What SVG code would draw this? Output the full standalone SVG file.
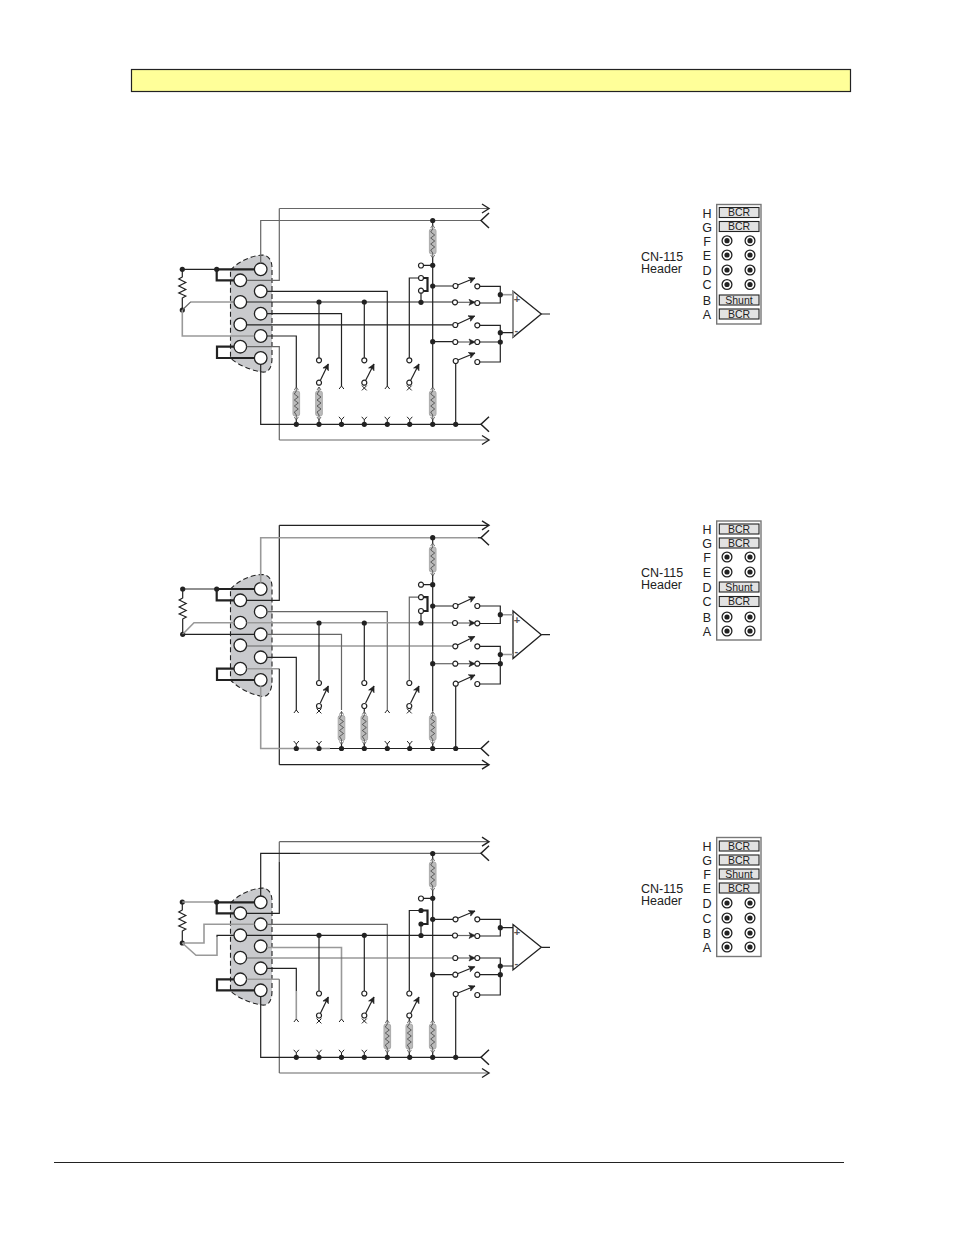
<svg xmlns="http://www.w3.org/2000/svg" width="954" height="1235" viewBox="0 0 954 1235">
<style>
text{font-family:"Liberation Sans",Arial,sans-serif;fill:#222}
.w{fill:none;stroke:#222;stroke-width:1.2}
.g{fill:none;stroke:#666;stroke-width:1.2}
.l{fill:none;stroke:#999;stroke-width:1.6}
.t{fill:none;stroke:#222;stroke-width:2.2}
.j{fill:#222;stroke:none}
.o{fill:#fff;stroke:#222;stroke-width:1.2}
.p{fill:#fff;stroke:#222;stroke-width:1.3}
.s{fill:#c9cacd;stroke:#222;stroke-width:1.1;stroke-dasharray:5 3}
.a{fill:#fff;stroke:#222;stroke-width:1.3}
.h{fill:#fff;stroke:#777;stroke-width:1.4}
.r{fill:#e2e2e2;stroke:#222;stroke-width:1.1}
.lb{font-size:12.5px;text-anchor:middle}
.bt{font-size:10.5px;text-anchor:middle}
.tt{font-size:12.5px}
.sg{font-size:11px;font-weight:bold;fill:#555}
</style>
<defs>
<marker id="arr" markerUnits="userSpaceOnUse" markerWidth="12" markerHeight="12" refX="9" refY="6" orient="auto" overflow="visible"><path d="M2 1.5L9 6L2 10.5" fill="none" stroke="#222" stroke-width="1.4"/></marker>
<marker id="fork" markerUnits="userSpaceOnUse" markerWidth="12" markerHeight="18" refX="1" refY="9" orient="auto" overflow="visible"><path d="M9 1.5L1 9L9 16.5" fill="none" stroke="#222" stroke-width="1.5"/></marker>
<marker id="sa" markerUnits="userSpaceOnUse" markerWidth="8" markerHeight="8" refX="7" refY="4" orient="auto"><path d="M1 1L7 4L1 7L2.5 4Z" fill="#222" stroke="#222" stroke-width=".6"/></marker>
<g id="sh"><rect x="-3.3" y="4" width="6.6" height="25" rx="2" fill="#bbb" stroke="#aaa"/><path d="M0 0V4l-2 3 4 3-4 3 4 3-4 3 4 3-4 3 2 3V33M-2 3L0 0L2 3M-2 30L0 33L2 30" fill="none" stroke="#333" stroke-width=".7"/></g>
<path id="mv" d="M-2.6 -7.5L0 -4.5L2.6 -7.5M0 -4.5V0" fill="none" stroke="#222" stroke-width="1"/>
<path id="mt" d="M-2.4 2L0 -1L2.4 2" fill="none" stroke="#222" stroke-width="1"/>
<path id="mx" d="M-2.4 2.4L2.4 -2.4M2.4 2.4L-2.4 -2.4" fill="none" stroke="#222" stroke-width="1"/>
<circle id="jn" r="2.6" class="j"/>
<circle id="op" r="2.5" class="o"/>
<circle id="pn" r="6.3" class="p"/>
<g id="hp"><circle r="4.9" fill="#fff" stroke="#222" stroke-width="1.3"/><circle r="2.6" fill="#222"/></g>
</defs>

<rect id="banner" x="131.5" y="69.5" width="719" height="22" fill="#ffff99" stroke="#222" stroke-width="1.2"/>
<path id="footer-rule" d="M54 1162.5H844" stroke="#222" stroke-width="1" fill="none"/>

<!-- DIAGRAM 1 -->
<g id="connector-1">
<path class="s" d="M230.5 270C238 262 250 256 262 255C269 255 272 261 272 268V358C272 367 269 373 262 372C250 370 238 365 230.5 358Z"/>
<use href="#pn" x="260.7" y="269.3"/><use href="#pn" x="260.7" y="291.3"/><use href="#pn" x="260.7" y="313.7"/><use href="#pn" x="260.7" y="336"/><use href="#pn" x="260.7" y="358"/>
<use href="#pn" x="240.3" y="280.3"/><use href="#pn" x="240.3" y="302"/><use href="#pn" x="240.3" y="324.5"/><use href="#pn" x="240.3" y="346.7"/>
</g>
<g id="resistor-1">
<path class="w" d="M182.3 269.3V277l-3.5 2 7 3.5-7 3.5 7 3.5-7 3.5 7 3 -3.5 2V310"/>
<use href="#jn" x="182.3" y="269.3"/><use href="#jn" x="182.3" y="310"/>
</g>
<g id="opamp-1">
<path class="a" d="M513 291.3L541.3 314L513 337.3Z"/><path class="l" d="M513 291.3V337.3"/>
<text class="sg" x="513.8" y="303">+</text><text class="sg" x="514.5" y="334">-</text>
</g>
<g id="wires-1">
<path class="g" marker-end="url(#arr)" d="M279.3 208.5H489"/>
<path class="g" d="M279.3 208.5V280.3H246.6"/>
<path class="g" marker-end="url(#fork)" d="M260.7 263V220.5H481"/>
<path class="w" d="M182.3 269.3H216.7"/>
<path class="t" d="M254.4 269.3H216.7V280.3H234M234 346.7H217V358H254.4"/>
<path class="g" d="M182.3 310L190.5 302H234"/>
<path class="l" d="M182.3 310V336H254.4"/>
<path class="w" d="M246.6 302H452.3M267 291.3H387.3V386M267 313.7H341.5V386M246.6 324.8H452.8M267 336H296.3V387"/>
<path class="g" d="M246.6 346.7H279.3V440"/>
<path class="g" marker-end="url(#arr)" d="M279.3 440H489"/>
<path class="w" marker-end="url(#fork)" d="M260.7 364.3V424.3H481"/>
<path class="w" d="M319 302V358M364.3 302V358M432.7 220.5V225M432.7 258V387M432.7 265.3H423.5M432.7 286H453M432.7 341.7H453M421 302.3V293M421 278H409.3V358M455.7 363.5V424.3"/>
<path class="t" d="M423 278H427.5V291H423.5"/>
<path class="w" marker-end="url(#sa)" d="M457.7 285L475 278"/>
<path class="w" marker-end="url(#sa)" d="M457.5 324L474.7 316"/>
<path class="w" marker-end="url(#sa)" d="M458 360L475 353"/>
<path class="g" marker-end="url(#sa)" d="M457.6 302.3H475"/>
<path class="g" marker-end="url(#sa)" d="M458 342H475"/>
<path class="w" marker-end="url(#sa)" d="M320.3 380.5L328.3 364"/>
<path class="w" marker-end="url(#sa)" d="M365.6 380.5L374 364"/>
<path class="w" marker-end="url(#sa)" d="M410.6 380.5L419 364"/>
<path class="w" d="M480 286.3H500.3V303H480M480 325.3H500.3V362H480M480 342H500.3M500.3 332.7H513M541.3 314H550"/>
<path class="l" d="M500.3 294.7H513"/>
<use href="#sh" x="296.3" y="387"/><use href="#sh" x="319" y="387"/><use href="#sh" x="432.7" y="387"/><use href="#sh" x="432.7" y="225"/>
<path class="w" d="M296.3 420V424M319 420V424M432.7 420V424"/>
<use href="#mt" x="341.5" y="387"/><use href="#mt" x="387.3" y="387"/><use href="#mx" x="364.3" y="388"/><use href="#mx" x="409.3" y="388"/>
<use href="#mv" x="341.5" y="424.3"/><use href="#mv" x="364.3" y="424.3"/><use href="#mv" x="387.3" y="424.3"/><use href="#mv" x="409.7" y="424.3"/>
<use href="#jn" x="296.3" y="424.3"/><use href="#jn" x="319" y="424.3"/><use href="#jn" x="341.5" y="424.3"/><use href="#jn" x="364.3" y="424.3"/><use href="#jn" x="387.3" y="424.3"/><use href="#jn" x="409.7" y="424.3"/><use href="#jn" x="432.7" y="424.3"/><use href="#jn" x="455.7" y="424.3"/>
<use href="#jn" x="319" y="302"/><use href="#jn" x="364.3" y="302"/><use href="#jn" x="421" y="302.3"/><use href="#jn" x="432.7" y="220.5"/><use href="#jn" x="432.7" y="265.3"/><use href="#jn" x="432.7" y="286"/><use href="#jn" x="432.7" y="341.7"/><use href="#jn" x="500.3" y="294.7"/><use href="#jn" x="500.3" y="332.7"/><use href="#jn" x="500.3" y="342"/><use href="#jn" x="216.7" y="269.3"/>
<use href="#op" x="319" y="360.3"/><use href="#op" x="319" y="382.7"/><use href="#op" x="364.3" y="360.3"/><use href="#op" x="364.3" y="382.7"/><use href="#op" x="409.3" y="360.3"/><use href="#op" x="409.3" y="382.7"/>
<use href="#op" x="421" y="265.5"/><use href="#op" x="421" y="278"/><use href="#op" x="421" y="290.7"/>
<use href="#op" x="455.5" y="286"/><use href="#op" x="455" y="302.3"/><use href="#op" x="455.3" y="325"/><use href="#op" x="455.3" y="342"/><use href="#op" x="455.7" y="361"/>
<use href="#op" x="477.3" y="286.3"/><use href="#op" x="477.3" y="303"/><use href="#op" x="477.3" y="325.3"/><use href="#op" x="477.3" y="342"/><use href="#op" x="477.3" y="362"/>
</g>
<g id="header-1">
<rect class="h" x="716.7" y="204.5" width="44.3" height="119.5"/>
<rect class="r" x="719.3" y="207.5" width="39.7" height="10"/><text class="bt" x="739" y="216.4">BCR</text>
<rect class="r" x="719.3" y="221.5" width="39.7" height="10"/><text class="bt" x="739" y="230.4">BCR</text>
<use href="#hp" x="727" y="240.7"/><use href="#hp" x="750" y="240.7"/><use href="#hp" x="727" y="255"/><use href="#hp" x="750" y="255"/><use href="#hp" x="727" y="270"/><use href="#hp" x="750" y="270"/><use href="#hp" x="727" y="284.5"/><use href="#hp" x="750" y="284.5"/>
<rect class="r" x="719.3" y="295" width="39.7" height="10"/><text class="bt" x="739" y="304">Shunt</text>
<rect class="r" x="719.3" y="309" width="39.7" height="10"/><text class="bt" x="739" y="318">BCR</text>
<text class="lb" x="707" y="217.5">H</text><text class="lb" x="707" y="231.5">G</text><text class="lb" x="707" y="245.5">F</text><text class="lb" x="707" y="259.5">E</text><text class="lb" x="707" y="274.5">D</text><text class="lb" x="707" y="289">C</text><text class="lb" x="707" y="304.5">B</text><text class="lb" x="707" y="318.5">A</text>
<text class="tt" x="641" y="261">CN-115</text><text class="tt" x="641" y="273">Header</text>
</g>

<!-- DIAGRAM 2 -->
<g id="connector-2">
<path class="s" d="M230.5 589C238 581 250 575 262 574.5C269 574.5 272 580 272 587V680C272 690 269 697 262 696.5C250 694 238 688 230.5 680Z"/>
<use href="#pn" x="260.7" y="589"/><use href="#pn" x="260.7" y="611.7"/><use href="#pn" x="260.7" y="634.3"/><use href="#pn" x="260.7" y="657.3"/><use href="#pn" x="260.7" y="680"/>
<use href="#pn" x="240.3" y="600.3"/><use href="#pn" x="240.3" y="622.7"/><use href="#pn" x="240.3" y="645.3"/><use href="#pn" x="240.3" y="668.7"/>
</g>
<g id="resistor-2">
<path class="w" d="M182.7 589V598l-3.5 2 7 3.5-7 3.5 7 3.5-7 3.5 7 3-3.5 2V634.3"/>
<use href="#jn" x="182.7" y="589"/><use href="#jn" x="182.7" y="634.3"/>
</g>
<g id="opamp-2">
<path class="a" d="M513 611L541.3 634.7L513 658.5Z"/>
<text class="sg" x="513.8" y="624">+</text><text class="sg" x="514.5" y="655">-</text>
</g>
<g id="wires-2">
<path class="w" marker-end="url(#arr)" d="M279.3 525.3H489"/>
<path class="w" d="M279.3 525.3V600.3H246.6"/>
<path class="l" d="M260.7 582.7V537.7H481"/>
<path class="w" marker-end="url(#fork)" d="M478 537.7H481"/>
<path class="w" d="M182.7 589H216.7"/>
<path class="t" d="M254.4 589H216.7V600.3H234M234 668.7H217V680H254.4"/>
<path class="l" d="M182.7 634.3L194 622.7H234"/>
<path class="w" d="M182.7 634.3H254.4"/>
<path class="g" d="M267 611.7H387.3V710"/>
<path class="g" d="M267 634.3H341.5V710"/>
<path class="l" d="M246.6 622.7H452"/>
<path class="g" d="M246.6 646H452.8"/>
<path class="w" d="M267 657.3H296.3V711"/>
<path class="l" d="M246.6 668.7H279.3"/>
<path class="w" d="M279.3 668.7V764.7"/>
<path class="w" marker-end="url(#arr)" d="M279.3 764.7H489"/>
<path class="l" d="M260.7 686.3V748.5H330"/>
<path class="w" marker-end="url(#fork)" d="M330 748.5H481"/>
<path class="w" d="M319 623V680M364.3 623V680M432.7 537.7V543M432.7 575.5V711M432.7 584.7H423.5M432.7 606H453M421 623V613M455.7 686V748.5"/>
<path class="g" d="M432.7 663.7H453"/>
<path class="g" d="M421 597.2H409.3V680"/>
<path class="t" d="M423 597.2H427.5V611H423.5"/>
<path class="w" marker-end="url(#sa)" d="M457.7 605L475 597"/>
<path class="w" marker-end="url(#sa)" d="M457.5 645L474.7 636.5"/>
<path class="w" marker-end="url(#sa)" d="M458 682.7L475 675"/>
<path class="g" marker-end="url(#sa)" d="M457.6 623H475"/>
<path class="g" marker-end="url(#sa)" d="M458 663.7H475"/>
<path class="w" marker-end="url(#sa)" d="M320.3 703L328.3 686"/>
<path class="w" marker-end="url(#sa)" d="M365.6 703L374 686"/>
<path class="w" marker-end="url(#sa)" d="M410.6 703L419 686"/>
<path class="w" d="M480 606H500.3V623.5H480M480 646.3H500.3V684H480M480 663.7H500.3M541.3 634.7H550"/>
<path class="l" d="M500.3 614.7H513M500.3 654.5H513"/>
<use href="#sh" x="341.5" y="711.5"/><use href="#sh" x="364.3" y="711.5"/><use href="#sh" x="432.7" y="711.5"/><use href="#sh" x="432.7" y="543"/>
<path class="w" d="M341.5 744V748M364.3 744V748M432.7 744V748M364.3 708V711.5"/>
<use href="#mt" x="296.3" y="711"/><use href="#mt" x="387.3" y="711"/><use href="#mx" x="319" y="711"/><use href="#mx" x="409.3" y="711"/>
<use href="#mv" x="296.3" y="748.5"/><use href="#mv" x="319" y="748.5"/><use href="#mv" x="387.3" y="748.5"/><use href="#mv" x="409.7" y="748.5"/>
<use href="#jn" x="296.3" y="748.5"/><use href="#jn" x="319" y="748.5"/><use href="#jn" x="341.5" y="748.5"/><use href="#jn" x="364.3" y="748.5"/><use href="#jn" x="387.3" y="748.5"/><use href="#jn" x="409.7" y="748.5"/><use href="#jn" x="432.7" y="748.5"/><use href="#jn" x="455.7" y="748.5"/>
<use href="#jn" x="319" y="623"/><use href="#jn" x="364.3" y="623"/><use href="#jn" x="421" y="623"/><use href="#jn" x="432.7" y="537.7"/><use href="#jn" x="432.7" y="584.7"/><use href="#jn" x="432.7" y="606"/><use href="#jn" x="432.7" y="663.7"/><use href="#jn" x="500.3" y="614.7"/><use href="#jn" x="500.3" y="654.5"/><use href="#jn" x="500.3" y="663.7"/><use href="#jn" x="216.7" y="589"/>
<use href="#op" x="319" y="683"/><use href="#op" x="319" y="706"/><use href="#op" x="364.3" y="683"/><use href="#op" x="364.3" y="706"/><use href="#op" x="409.3" y="683"/><use href="#op" x="409.3" y="706"/>
<use href="#op" x="421" y="584.7"/><use href="#op" x="421" y="597.2"/><use href="#op" x="421" y="611"/>
<use href="#op" x="455.5" y="606"/><use href="#op" x="455" y="623"/><use href="#op" x="455.3" y="646.3"/><use href="#op" x="455.3" y="663.7"/><use href="#op" x="455.7" y="683.7"/>
<use href="#op" x="477.3" y="606"/><use href="#op" x="477.3" y="623.3"/><use href="#op" x="477.3" y="646.3"/><use href="#op" x="477.3" y="663.7"/><use href="#op" x="477.3" y="684"/>
</g>
<g id="header-2">
<rect class="h" x="716.7" y="521" width="44.3" height="119"/>
<rect class="r" x="719.3" y="524" width="39.7" height="10"/><text class="bt" x="739" y="532.9">BCR</text>
<rect class="r" x="719.3" y="538" width="39.7" height="10"/><text class="bt" x="739" y="546.9">BCR</text>
<use href="#hp" x="727" y="557"/><use href="#hp" x="750" y="557"/><use href="#hp" x="727" y="572"/><use href="#hp" x="750" y="572"/>
<rect class="r" x="719.3" y="582" width="39.7" height="10"/><text class="bt" x="739" y="591">Shunt</text>
<rect class="r" x="719.3" y="596.5" width="39.7" height="10"/><text class="bt" x="739" y="605.4">BCR</text>
<use href="#hp" x="727" y="617"/><use href="#hp" x="750" y="617"/><use href="#hp" x="727" y="631"/><use href="#hp" x="750" y="631"/>
<text class="lb" x="707" y="534">H</text><text class="lb" x="707" y="548">G</text><text class="lb" x="707" y="562">F</text><text class="lb" x="707" y="576.5">E</text><text class="lb" x="707" y="591.5">D</text><text class="lb" x="707" y="606">C</text><text class="lb" x="707" y="621.5">B</text><text class="lb" x="707" y="635.5">A</text>
<text class="tt" x="641" y="577">CN-115</text><text class="tt" x="641" y="589">Header</text>
</g>

<!-- DIAGRAM 3 -->
<g transform="translate(0,633)">
<g id="connector-3">
<path class="s" d="M230.5 270C238 262 250 256 262 255C269 255 272 261 272 268V358C272 367 269 373 262 372C250 370 238 365 230.5 358Z"/>
<use href="#pn" x="260.7" y="269.3"/><use href="#pn" x="260.7" y="291.3"/><use href="#pn" x="260.7" y="313.3"/><use href="#pn" x="260.7" y="335.3"/><use href="#pn" x="260.7" y="357.3"/>
<use href="#pn" x="240.3" y="280.3"/><use href="#pn" x="240.3" y="302.3"/><use href="#pn" x="240.3" y="324.7"/><use href="#pn" x="240.3" y="346.3"/>
</g>
<g id="resistor-3">
<path class="w" d="M182.3 269V277l-3.5 2 7 3.5-7 3.5 7 3.5-7 3.5 7 3-3.5 2V310"/>
<use href="#jn" x="182.3" y="269"/><use href="#jn" x="182.3" y="310"/>
</g>
<g id="opamp-3">
<path class="a" d="M513 291.5L541.3 314.3L513 337Z"/>
<text class="sg" x="513.8" y="303">+</text><text class="sg" x="514.5" y="334">-</text>
</g>
<g id="wires-3">
<path class="g" marker-end="url(#arr)" d="M279.3 208.7H489"/>
<path class="w" d="M279.3 229V280.3H246.6"/>
<path class="g" d="M279.3 208.7V229"/>
<path class="w" d="M260.7 263V220.3H300"/>
<path class="g" marker-end="url(#fork)" d="M300 220.3H481"/>
<path class="l" d="M182.3 269H216.7"/>
<path class="t" d="M254.4 269.3H216.7V280.3H234M234 346.3H217V357.3H254.4"/>
<path class="l" d="M182.3 310H204V291.3H254.4M182.3 310L196 322.3H217V304"/>
<path class="w" d="M217 304V302.3H234"/>
<path class="g" d="M267 291.3H387.3V387"/>
<path class="w" d="M246.6 302.3H452.3"/>
<path class="l" d="M267 314.5H341.5V386"/>
<path class="g" d="M246.6 325H452.8"/>
<path class="w" d="M267 335.3H296.3V358"/>
<path class="l" d="M296.3 358V386"/>
<path class="l" d="M246.6 346.3H279.3"/>
<path class="g" d="M279.3 346.3V440"/>
<path class="g" marker-end="url(#arr)" d="M279.3 440H489"/>
<path class="w" marker-end="url(#fork)" d="M260.7 364V424.3H481"/>
<path class="w" d="M319 302.3V358M364.3 302.3V358M432.7 220.5V225M432.7 258V387M432.7 265.3H423.5M432.7 286.3H453M432.7 341.7H453M421 302.5V291M421 277.5H409.3V358M455.7 363.5V424.3"/>
<path class="t" d="M421 277.5H427.5V291H421"/>
<path class="w" marker-end="url(#sa)" d="M457.7 285.3L475 278"/>
<path class="w" marker-end="url(#sa)" d="M457.5 340.7L474.7 333.7"/>
<path class="w" marker-end="url(#sa)" d="M458 360L475 353"/>
<path class="g" marker-end="url(#sa)" d="M457.6 302.5H475"/>
<path class="g" marker-end="url(#sa)" d="M458 325H475"/>
<path class="w" marker-end="url(#sa)" d="M320.3 380.5L328.3 364"/>
<path class="w" marker-end="url(#sa)" d="M365.6 380.5L374 364"/>
<path class="w" marker-end="url(#sa)" d="M410.6 380.5L419 364"/>
<path class="w" d="M480 286.3H500.3V303H480M480 325H500.3V362H480M480 341.7H500.3M500.3 333H513M541.3 314.3H550M500.3 294.7H513"/>
<use href="#sh" x="387.3" y="387"/><use href="#sh" x="409.3" y="387"/><use href="#sh" x="432.7" y="387"/><use href="#sh" x="432.7" y="225"/>
<path class="w" d="M387.3 420V424M409.3 420V424M432.7 420V424M409.3 385V387"/>
<use href="#mt" x="296.3" y="387"/><use href="#mt" x="341.5" y="387"/><use href="#mx" x="319" y="388"/><use href="#mx" x="364.3" y="388"/>
<use href="#mv" x="296.3" y="424.3"/><use href="#mv" x="319" y="424.3"/><use href="#mv" x="341.5" y="424.3"/><use href="#mv" x="364.3" y="424.3"/>
<use href="#jn" x="296.3" y="424.3"/><use href="#jn" x="319" y="424.3"/><use href="#jn" x="341.5" y="424.3"/><use href="#jn" x="364.3" y="424.3"/><use href="#jn" x="387.3" y="424.3"/><use href="#jn" x="409.7" y="424.3"/><use href="#jn" x="432.7" y="424.3"/><use href="#jn" x="455.7" y="424.3"/>
<use href="#jn" x="319" y="302.3"/><use href="#jn" x="364.3" y="302.3"/><use href="#jn" x="421" y="302.5"/><use href="#jn" x="421" y="277.5"/><use href="#jn" x="421" y="291"/><use href="#jn" x="432.7" y="220.5"/><use href="#jn" x="432.7" y="265.3"/><use href="#jn" x="432.7" y="286.3"/><use href="#jn" x="432.7" y="341.7"/><use href="#jn" x="500.3" y="294.7"/><use href="#jn" x="500.3" y="333"/><use href="#jn" x="500.3" y="341.7"/><use href="#jn" x="216.7" y="269"/>
<use href="#op" x="319" y="360.5"/><use href="#op" x="319" y="382.5"/><use href="#op" x="364.3" y="360.5"/><use href="#op" x="364.3" y="382.5"/><use href="#op" x="409.3" y="360.5"/><use href="#op" x="409.3" y="382.5"/>
<use href="#op" x="421" y="265.5"/>
<use href="#op" x="455.5" y="286.3"/><use href="#op" x="455" y="302.5"/><use href="#op" x="455.3" y="325"/><use href="#op" x="455.3" y="341.7"/><use href="#op" x="455.7" y="361"/>
<use href="#op" x="477.3" y="286.3"/><use href="#op" x="477.3" y="303"/><use href="#op" x="477.3" y="325"/><use href="#op" x="477.3" y="341.7"/><use href="#op" x="477.3" y="362"/>
</g>
</g>
<g id="header-3">
<rect class="h" x="716.7" y="837.5" width="44.3" height="119"/>
<rect class="r" x="719.3" y="841" width="39.7" height="10"/><text class="bt" x="739" y="849.9">BCR</text>
<rect class="r" x="719.3" y="855" width="39.7" height="10"/><text class="bt" x="739" y="863.9">BCR</text>
<rect class="r" x="719.3" y="869" width="39.7" height="10"/><text class="bt" x="739" y="878">Shunt</text>
<rect class="r" x="719.3" y="883" width="39.7" height="10"/><text class="bt" x="739" y="891.9">BCR</text>
<use href="#hp" x="727" y="903"/><use href="#hp" x="750" y="903"/><use href="#hp" x="727" y="918"/><use href="#hp" x="750" y="918"/><use href="#hp" x="727" y="933"/><use href="#hp" x="750" y="933"/><use href="#hp" x="727" y="947"/><use href="#hp" x="750" y="947"/>
<text class="lb" x="707" y="850.5">H</text><text class="lb" x="707" y="864.5">G</text><text class="lb" x="707" y="878.5">F</text><text class="lb" x="707" y="892.5">E</text><text class="lb" x="707" y="907.5">D</text><text class="lb" x="707" y="922.5">C</text><text class="lb" x="707" y="937.5">B</text><text class="lb" x="707" y="951.5">A</text>
<text class="tt" x="641" y="893">CN-115</text><text class="tt" x="641" y="905">Header</text>
</g>
</svg>
